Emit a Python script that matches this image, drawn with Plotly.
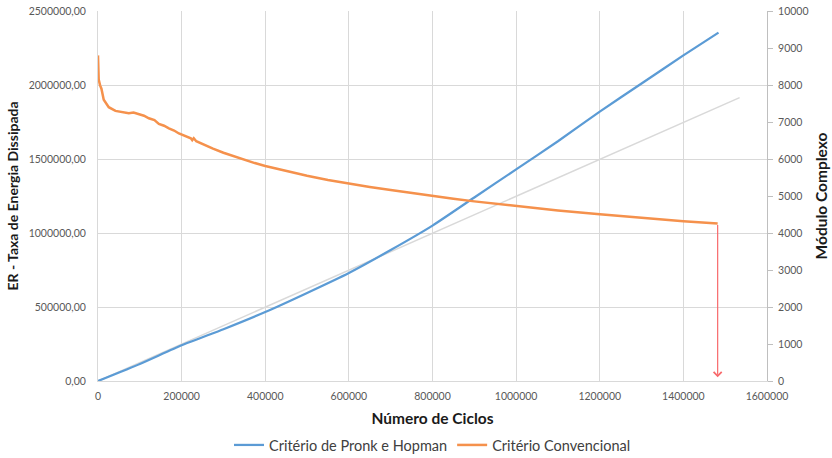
import plotly.graph_objects as go

# Critério de Pronk e Hopman (ER, left axis)
pronk_x = [0, 100000, 200000, 300000, 400000, 500000, 600000, 700000, 800000,
           900000, 1000000, 1100000, 1200000, 1300000, 1400000, 1484000]
pronk_y = [0, 115000, 241000, 350000, 466000, 595000, 730000, 885000, 1050000,
           1240000, 1430000, 1620000, 1820000, 2010000, 2200000, 2354000]

# Linear trend line of the ER series (left axis)
trend_x = [0, 1534500]
trend_y = [0, 1915000]

# Critério Convencional (Módulo Complexo, right axis)
conv_x = [0, 1700, 5000, 8200, 13700, 25700, 41700, 60000, 73600, 85000, 97600,
          110000, 121600, 135000, 145600, 158000, 169500, 182000, 193500, 210000,
          222000, 225400, 229000, 235000, 250000, 275000, 300000, 325000, 350000,
          375000, 400000, 450000, 500000, 550000, 600000, 650000, 700000, 750000,
          800000, 850000, 900000, 950000, 1000000, 1100000, 1200000, 1300000,
          1400000, 1482000]
conv_y = [8800, 8150, 7990, 7900, 7600, 7400, 7300, 7260, 7240, 7255, 7210,
          7170, 7100, 7050, 6950, 6900, 6830, 6770, 6690, 6620,
          6560, 6510, 6560, 6480, 6400, 6280, 6170, 6070, 5975,
          5890, 5810, 5670, 5545, 5435, 5335, 5245, 5160, 5075,
          4995, 4925, 4855, 4790, 4725, 4610, 4505, 4405,
          4316, 4254]

x_ticks = [0, 200000, 400000, 600000, 800000, 1000000, 1200000, 1400000, 1600000]

FONT = "Lato"
TICK_COLOR = "#595959"
GRID = "#D9D9D9"
TICK_FONT = dict(size=10.5, color=TICK_COLOR, family=FONT)


def title_font(size):
    return dict(size=size, color="#1a1a1a", family=FONT, weight="bold")


fig = go.Figure()
fig.add_trace(go.Scatter(x=trend_x, y=trend_y, mode="lines", showlegend=False,
                         line=dict(color="#D9D9D9", width=1.5), hoverinfo="skip"))
fig.add_trace(go.Scatter(x=pronk_x, y=pronk_y, mode="lines", name="Critério de Pronk e Hopman",
                         line=dict(color="#5B9BD5", width=2.25, shape="spline", smoothing=0.5)))
fig.add_trace(go.Scatter(x=conv_x, y=conv_y, mode="lines", name="Critério Convencional",
                         yaxis="y2", line=dict(color="#F5914C", width=2.5)))

fig.add_annotation(x=conv_x[-1], y=100, xref="x", yref="y2",
                   ax=conv_x[-1], ay=conv_y[-1], axref="x", ayref="y2",
                   showarrow=True, arrowhead=4, arrowsize=1.3, arrowwidth=1.2,
                   arrowcolor="#F8696B", text="")

fig.update_layout(
    width=832, height=458,
    margin=dict(l=98, r=65, t=11, b=77, autoexpand=False),
    paper_bgcolor="white", plot_bgcolor="white",
    separators=", ",
    font=dict(family=FONT, size=11, color=TICK_COLOR),
    xaxis=dict(range=[0, 1600000], tickvals=x_ticks, tickformat="d", automargin=False,
               showgrid=True, gridcolor=GRID, gridwidth=1, zeroline=False,
               showline=True, linecolor=GRID, linewidth=1,
               tickfont=TICK_FONT, ticklabelstandoff=5,
               title=dict(text="Número de Ciclos", standoff=12, font=title_font(15.5))),
    yaxis=dict(range=[0, 2500000], dtick=500000, tickformat=".2f", automargin=False,
               showgrid=True, gridcolor=GRID, gridwidth=1, zeroline=False,
               showline=True, linecolor=GRID, linewidth=1,
               tickfont=TICK_FONT, ticklabelstandoff=9,
               title=dict(text="ER - Taxa de Energia Dissipada", standoff=6, font=title_font(14))),
    yaxis2=dict(range=[0, 10000], dtick=1000, tickformat="d", overlaying="y", side="right",
                automargin=False,
                showgrid=False, zeroline=False, showline=True, linecolor="#BFBFBF",
                ticks="outside", ticklen=5, tickcolor="#BFBFBF",
                tickfont=TICK_FONT, ticklabelstandoff=3,
                title=dict(text="Módulo Complexo", standoff=8, font=title_font(15.5))),
    legend=dict(orientation="h", x=0.5, xanchor="center", y=-0.173, yanchor="middle",
                font=dict(size=14.5, color="#404040", family=FONT),
                itemwidth=30, tracegroupgap=0),
)

# remove the default page margin so the figure sits at the window origin
fig.write_html("out.html", config={"displayModeBar": False},
               post_script="document.body.style.margin='0';")
